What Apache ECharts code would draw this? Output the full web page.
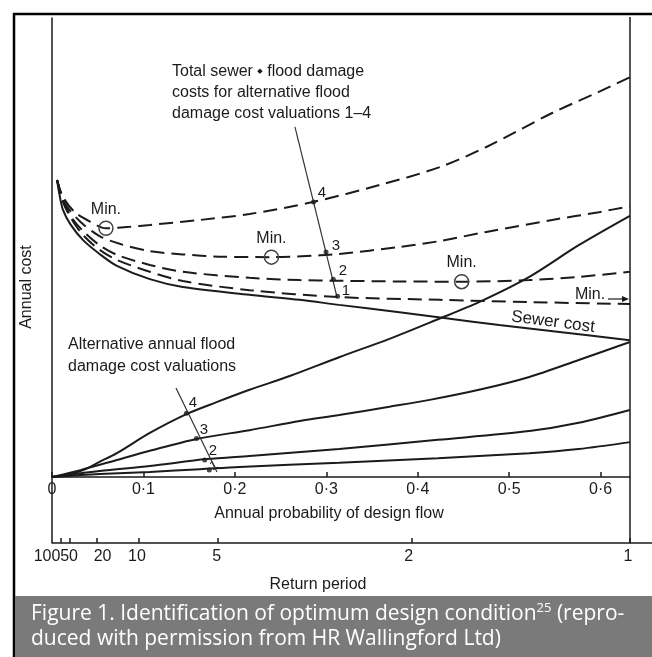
<!DOCTYPE html>
<html><head><meta charset="utf-8">
<script src="https://cdn.jsdelivr.net/npm/echarts@6/dist/echarts.min.js"></script>
<style>html,body{margin:0;padding:0;background:#fff}#c{width:652px;height:657px}</style>
</head><body><div id="c"></div>
<script>
// ---- data (x = annual probability of design flow, y = annual cost, arbitrary units) ----
const probTicks = [0, 0.1, 0.2, 0.3, 0.4, 0.5, 0.6];
const returnPeriods = [100, 50, 20, 10, 5, 2, 1];

const sewerCost = [[0.0055,64.7],[0.0087,61.0],[0.012,58.2],[0.020,55.1],[0.034,51.6],[0.052,48.6],[0.071,46.0],[0.107,43.1],[0.143,41.4],[0.216,39.7],[0.271,38.6],[0.314,37.5],[0.380,35.9],[0.431,34.6],[0.489,33.1],[0.555,31.6],[0.632,29.8]];

const flood1 = [[0,0],[0.052,0.65],[0.107,1.1],[0.162,1.7],[0.205,2.2],[0.314,3.1],[0.422,4.1],[0.522,5.2],[0.576,6.1],[0.632,7.6]];
const flood2 = [[0,0],[0.052,1.3],[0.107,2.4],[0.169,3.9],[0.216,4.6],[0.314,6.1],[0.422,8.1],[0.522,10.0],[0.576,11.8],[0.632,14.6]];
const flood3 = [[0,0],[0.031,1.5],[0.071,3.7],[0.107,5.7],[0.158,8.3],[0.216,10.2],[0.271,12.2],[0.314,13.5],[0.369,15.3],[0.413,16.8],[0.467,19.0],[0.522,21.8],[0.576,25.5],[0.632,29.4]];
const flood4 = [[0,0],[0.020,0.65],[0.034,1.5],[0.052,3.3],[0.071,5.2],[0.107,9.6],[0.147,13.7],[0.180,16.3],[0.216,19.0],[0.260,22.0],[0.314,26.1],[0.369,30.1],[0.420,34.2],[0.467,38.1],[0.522,43.6],[0.576,50.5],[0.632,56.9]];

const total1 = [[0.0055,64.7],[0.012,59.9],[0.022,56.0],[0.034,52.7],[0.052,49.5],[0.071,47.3],[0.107,44.7],[0.143,42.7],[0.216,40.7],[0.314,39.2],[0.424,38.6],[0.522,38.1],[0.632,37.7]];
const total2 = [[0.0055,64.7],[0.012,60.3],[0.022,56.4],[0.034,53.6],[0.052,50.5],[0.071,48.4],[0.107,46.2],[0.143,44.7],[0.216,43.4],[0.271,42.9],[0.314,42.75],[0.380,42.6],[0.448,42.55],[0.522,42.9],[0.576,43.6],[0.632,44.7]];
const total3 = [[0.0055,64.7],[0.014,59.7],[0.031,55.6],[0.052,52.5],[0.074,50.8],[0.107,49.2],[0.143,48.5],[0.183,48.0],[0.240,47.9],[0.293,48.3],[0.314,48.6],[0.380,50.1],[0.424,51.4],[0.475,53.4],[0.547,56.0],[0.598,57.7],[0.632,59.0]];
const total4 = [[0.0055,64.7],[0.012,61.0],[0.025,57.7],[0.042,55.6],[0.059,54.2],[0.085,54.5],[0.107,54.9],[0.162,56.0],[0.216,57.3],[0.285,59.9],[0.358,63.6],[0.424,67.5],[0.475,71.9],[0.547,79.3],[0.598,83.9],[0.632,87.1]];

const minima = [[0.059,54.2],[0.240,47.9],[0.448,42.55]];

// ---- annotation geometry (data units) ----
const leaderTotal = [[0.2657,76.3],[0.3117,39.2]];
const leaderTotalDots = [[0.286,59.9],[0.2997,49.0],[0.3076,43.1],[0.3124,39.4]];
const leaderFlood = [[0.1356,19.4],[0.1804,1.1]];
const leaderFloodDots = [[0.147,13.9],[0.158,8.4],[0.167,3.7],[0.172,1.5]];

// ---- layout ----
const G = {left: 52, top: 18, width: 578, height: 459};
const pMax = 1 - Math.exp(-1);
const rpPos = returnPeriods.map(T => 1 - Math.exp(-1 / T));
const INK = '#1b1b1b';
const FONT = 'Liberation Sans, Arial, sans-serif';

const solid = (name, data) => ({name, type:'line', data, showSymbol:false, smooth:0.3,
  lineStyle:{color:INK, width:2}, silent:true, z:3});
const dashed = (name, data) => ({name, type:'line', data, showSymbol:false, smooth:0.3,
  lineStyle:{color:INK, width:2, type:[14,7]}, silent:true, z:3});
const leader = (data) => ({type:'line', data, showSymbol:false, lineStyle:{color:'#333', width:1.2}, silent:true, z:4});
const dots = (data) => ({type:'scatter', data, symbolSize:5, itemStyle:{color:INK}, silent:true, z:5});

const rpShift = {50:[0,2,0,0], 20:[0,0,0,12], 10:[0,4,0,0], 5:[0,2,0,0], 2:[0,6,0,0], 1:[0,4,0,0]};
const rpRich = {};
returnPeriods.forEach(T => { rpRich['r'+T] = {padding: rpShift[T] || 0, fontSize:16, fontFamily:FONT, color:INK}; });

const t = (text, x, y, extra, el) => Object.assign({type:'text', x, y, silent:true,
  style: Object.assign({text, font:'16px '+FONT, fill:INK}, extra||{})}, el||{});
const ln = (x1,y1,x2,y2,w,c) => ({type:'line', silent:true, shape:{x1,y1,x2,y2}, style:{stroke:c||INK, lineWidth:w||1.5}});
const mid = {textAlign:'center', textVerticalAlign:'middle'};

const chart = echarts.init(document.getElementById('c'), null, {renderer:'canvas'});
chart.setOption({
  animation:false,
  backgroundColor:'#fff',
  grid: G,
  xAxis: [{
    type:'value', min:0, max:pMax, position:'bottom',
    name:'Annual probability of design flow', nameLocation:'middle', nameGap:29,
    nameTextStyle:{fontSize:16, fontFamily:FONT, color:INK, padding:[0,24,0,0]},
    axisLine:{show:true, onZero:false, lineStyle:{color:INK, width:1.5}},
    axisTick:{show:true, inside:true, length:5, customValues:probTicks, lineStyle:{color:INK, width:1.5}},
    axisLabel:{customValues:probTicks, margin:5, fontSize:16, fontFamily:FONT, color:INK,
      formatter: v => v === 0 ? '0' : v.toFixed(1).replace('.', '\u00B7')},
    splitLine:{show:false}
  },{
    type:'value', min:0, max:pMax, position:'bottom', offset:66,
    name:'Return period', nameLocation:'middle', nameGap:34,
    nameTextStyle:{fontSize:16, fontFamily:FONT, color:INK, padding:[0,46,0,0]},
    axisLine:{show:true, onZero:false, lineStyle:{color:INK, width:1.5}},
    axisTick:{show:true, inside:true, length:5, customValues:rpPos, lineStyle:{color:INK, width:1.5}},
    axisLabel:{customValues:rpPos, margin:6, fontSize:16, fontFamily:FONT, color:INK, rich:rpRich, hideOverlap:false,
      formatter: v => { const T = Math.round(-1/Math.log(1-v)); return T === 100 ? '' : '{r'+T+'|'+T+'}'; }},
    splitLine:{show:false}
  }],
  yAxis: {
    type:'value', min:0, max:100,
    axisLine:{show:true, lineStyle:{color:INK, width:1.5}},
    axisTick:{show:false}, axisLabel:{show:false}, splitLine:{show:false}
  },
  series: [
    solid('Sewer cost', sewerCost),
    solid('Flood damage 1', flood1), solid('Flood damage 2', flood2),
    solid('Flood damage 3', flood3), solid('Flood damage 4', flood4),
    dashed('Total 1', total1), dashed('Total 2', total2),
    dashed('Total 3', total3), dashed('Total 4', total4),
    {type:'scatter', data:minima, symbol:'circle', symbolSize:14, silent:true, z:6,
      itemStyle:{color:'rgba(255,255,255,0)', borderColor:'#444', borderWidth:1.5, opacity:1},
      label:{show:true, position:'top', distance:3, formatter:'Min.', fontSize:16, fontFamily:FONT, color:INK, opacity:1}},
    leader(leaderTotal), dots(leaderTotalDots),
    leader(leaderFlood), dots(leaderFloodDots)
  ],
  graphic: [
    // outer frame and caption band
    ln(13,14,652,14,2.5,'#000'), ln(14,13,14,657,2.5,'#000'),
    {type:'rect', silent:true, shape:{x:15, y:596, width:637, height:61}, style:{fill:'#7a7a7a'}},
    {type:'text', silent:true, x:31, y:602, style:{
      text:'Figure 1. Identification of optimum design condition{s|25} (repro-\nduced with permission from HR Wallingford Ltd)',
      font:'21px "Open Sans", sans-serif', fill:'#fff', lineHeight:25,
      rich:{s:{fontSize:13, fontFamily:'"Open Sans", sans-serif', fill:'#fff', verticalAlign:'top', lineHeight:13}}}},
    // axis extensions
    ln(52,477,52,543), ln(630,17,630,543), ln(630,543,652,543),
    // return period "100" label (moved left of its tick to clear "50")
    t('100', 47, 557, mid),
    // axis title
    t('Annual cost', 27, 287, mid, {rotation: Math.PI/2}),
    // annotations
    {type:'text', silent:true, x:172, y:61, style:{
      text:'Total sewer {d|\u25C6} flood damage\ncosts for alternative flood\ndamage cost valuations 1\u20134',
      font:'16px '+FONT, fill:INK, lineHeight:21,
      rich:{d:{fontSize:7, fontFamily:'DejaVu Sans', fill:INK}}}},
    t('4', 322, 193, Object.assign({font:'15px '+FONT}, mid)),
    t('3', 336, 246, Object.assign({font:'15px '+FONT}, mid)),
    t('2', 343, 271, Object.assign({font:'15px '+FONT}, mid)),
    t('1', 346, 291, Object.assign({font:'15px '+FONT}, mid)),
    {type:'text', silent:true, x:68, y:334, style:{
      text:'Alternative annual flood\ndamage cost valuations', font:'16px '+FONT, fill:INK, lineHeight:22}},
    t('4', 193, 403, Object.assign({font:'15px '+FONT}, mid)),
    t('3', 204, 430, Object.assign({font:'15px '+FONT}, mid)),
    t('2', 213, 451, Object.assign({font:'15px '+FONT}, mid)),
    t('1', 214, 466, Object.assign({font:'13px '+FONT}, mid), {rotation:0.5}),
    t('Sewer cost', 553, 322, Object.assign({font:'17px '+FONT}, mid), {rotation:-0.13}),
    t('Min.', 590, 295, mid),
    ln(608,299,624,299,1.2),
    {type:'polygon', silent:true, shape:{points:[[629,299],[622,296],[622,302]]}, style:{fill:INK}}
  ]
});
</script></body></html>
